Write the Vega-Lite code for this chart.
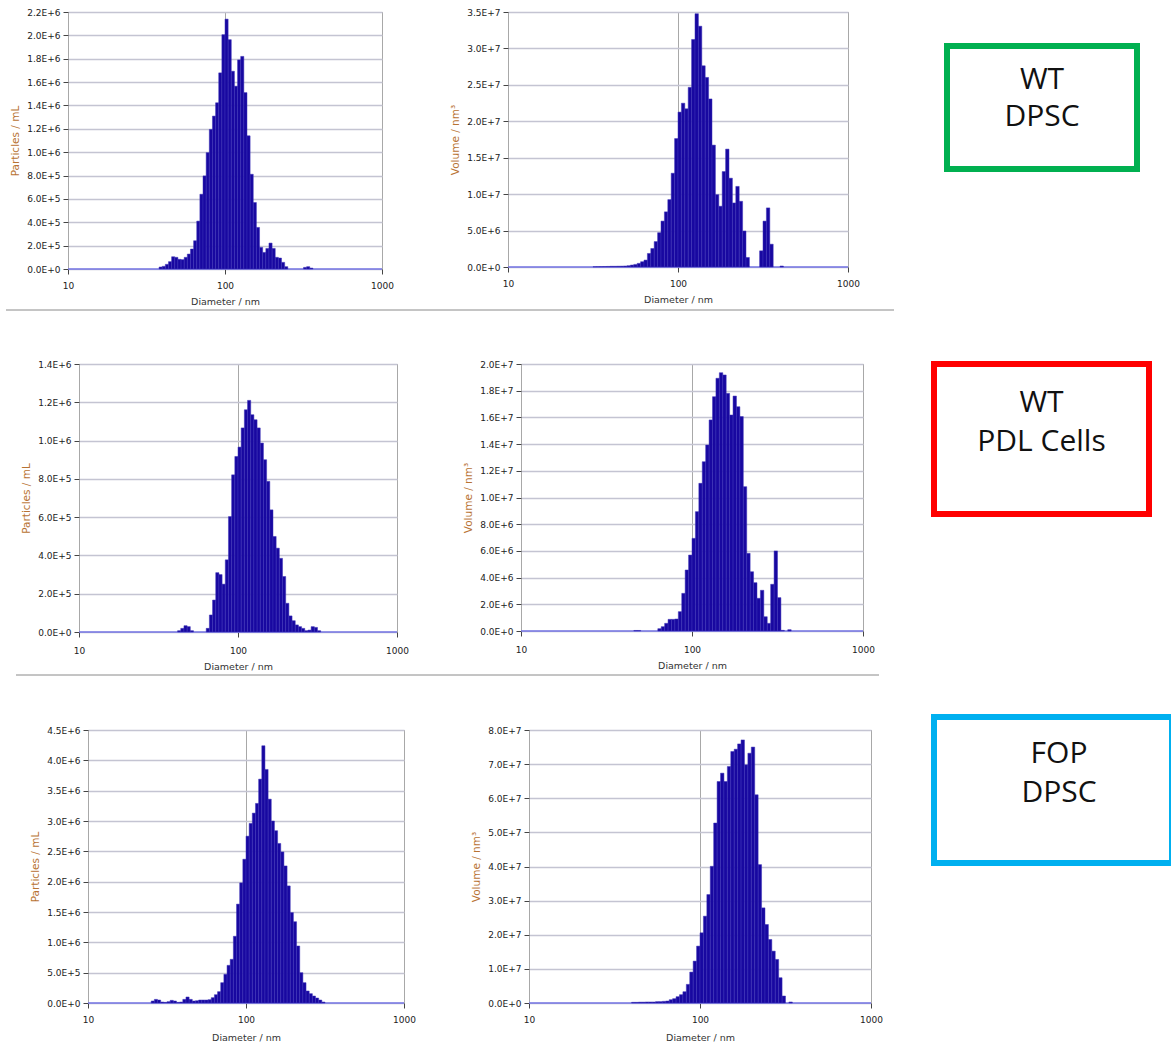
{
"$schema": "https://vega.github.io/schema/vega-lite/v6.json",
"padding": {"left": 0, "top": 7, "right": 0, "bottom": 0},
"config": {
 "view": {"stroke": null},
 "font": "DejaVu Sans",
 "axis": {"labelFont": "DejaVu Sans", "titleFont": "DejaVu Sans", "labelFontSize": 9, "labelColor": "#222", "tickColor": "#444", "tickSize": 5, "domain": false},
 "axisX": {"labelFlush": false, "labelOverlap": false, "grid": true, "gridColor": "#a8a8a8", "gridWidth": 1, "labelPadding": 7, "titlePadding": 6, "titleFontSize": 9.5, "titleColor": "#333", "titleFontWeight": "normal"},
 "axisY": {"grid": true, "labelOverlap": false, "tickCount": 30, "gridColor": "#c4c4d2", "gridWidth": 1.3, "labelPadding": 3, "titlePadding": 6, "titleFontSize": 10.5, "titleColor": "#b87333", "titleFontWeight": "normal", "labelExpr": "upper(format(datum.value, '.1e'))"}
},
"datasets": {
 "p1": [
  {"lo":38.02,"hi":39.81,"v":17000},{"lo":39.81,"hi":41.69,"v":23000},{"lo":41.69,"hi":43.65,"v":40000},{"lo":43.65,"hi":45.71,"v":63000},
  {"lo":45.71,"hi":47.86,"v":105000},{"lo":47.86,"hi":50.12,"v":100000},{"lo":50.12,"hi":52.48,"v":83000},{"lo":52.48,"hi":54.95,"v":80000},
  {"lo":54.95,"hi":57.54,"v":100000},{"lo":57.54,"hi":60.26,"v":128000},{"lo":60.26,"hi":63.10,"v":171000},{"lo":63.10,"hi":66.07,"v":242000},
  {"lo":66.07,"hi":69.18,"v":410000},{"lo":69.18,"hi":72.44,"v":640000},{"lo":72.44,"hi":75.86,"v":797000},{"lo":75.86,"hi":79.43,"v":996000},
  {"lo":79.43,"hi":83.18,"v":1195000},{"lo":83.18,"hi":87.10,"v":1309000},{"lo":87.10,"hi":91.20,"v":1423000},{"lo":91.20,"hi":95.50,"v":1679000},
  {"lo":95.50,"hi":100,"v":2006000},{"lo":100,"hi":104.71,"v":2139000},{"lo":104.71,"hi":109.65,"v":1963000},{"lo":109.65,"hi":114.82,"v":1693000},
  {"lo":114.82,"hi":120.23,"v":1565000},{"lo":120.23,"hi":125.89,"v":1790000},{"lo":125.89,"hi":131.83,"v":1820000},{"lo":131.83,"hi":138.04,"v":1510000},
  {"lo":138.04,"hi":144.54,"v":1140000},{"lo":144.54,"hi":151.36,"v":811000},{"lo":151.36,"hi":158.49,"v":569000},{"lo":158.49,"hi":165.96,"v":356000},
  {"lo":165.96,"hi":173.78,"v":185000},{"lo":173.78,"hi":181.97,"v":142000},{"lo":181.97,"hi":190.55,"v":176000},{"lo":190.55,"hi":199.53,"v":222000},
  {"lo":199.53,"hi":208.93,"v":176000},{"lo":208.93,"hi":218.78,"v":100000},{"lo":218.78,"hi":229.09,"v":94000},{"lo":229.09,"hi":239.88,"v":57000},
  {"lo":239.88,"hi":251.19,"v":20000},{"lo":316.23,"hi":331.13,"v":14000},{"lo":331.13,"hi":346.74,"v":20000},{"lo":346.74,"hi":363.08,"v":8000}
 ],
 "p2": [
  {"lo":31.62,"hi":33.11,"v":40000},{"lo":33.11,"hi":34.67,"v":50000},{"lo":34.67,"hi":36.31,"v":60000},{"lo":36.31,"hi":38.02,"v":70000},
  {"lo":38.02,"hi":39.81,"v":80000},{"lo":39.81,"hi":41.69,"v":100000},{"lo":41.69,"hi":43.65,"v":100000},{"lo":43.65,"hi":45.71,"v":110000},
  {"lo":45.71,"hi":47.86,"v":120000},{"lo":47.86,"hi":50.12,"v":140000},{"lo":50.12,"hi":52.48,"v":180000},{"lo":52.48,"hi":54.95,"v":270000},
  {"lo":54.95,"hi":57.54,"v":360000},{"lo":57.54,"hi":60.26,"v":500000},{"lo":60.26,"hi":63.10,"v":725000},{"lo":63.10,"hi":66.07,"v":950000},
  {"lo":66.07,"hi":69.18,"v":1860000},{"lo":69.18,"hi":72.44,"v":2540000},{"lo":72.44,"hi":75.86,"v":3490000},{"lo":75.86,"hi":79.43,"v":4710000},
  {"lo":79.43,"hi":83.18,"v":6300000},{"lo":83.18,"hi":87.10,"v":7570000},{"lo":87.10,"hi":91.20,"v":9250000},{"lo":91.20,"hi":95.50,"v":12870000},
  {"lo":95.50,"hi":100,"v":17630000},{"lo":100,"hi":104.71,"v":21260000},{"lo":104.71,"hi":109.65,"v":22480000},{"lo":109.65,"hi":114.82,"v":21710000},
  {"lo":114.82,"hi":120.23,"v":24660000},{"lo":120.23,"hi":125.89,"v":31230000},{"lo":125.89,"hi":131.83,"v":34770000},{"lo":131.83,"hi":138.04,"v":33050000},
  {"lo":138.04,"hi":144.54,"v":27610000},{"lo":144.54,"hi":151.36,"v":26020000},{"lo":151.36,"hi":158.49,"v":23070000},{"lo":158.49,"hi":165.96,"v":16730000},
  {"lo":165.96,"hi":173.78,"v":9930000},{"lo":173.78,"hi":181.97,"v":8340000},{"lo":181.97,"hi":190.55,"v":13100000},{"lo":190.55,"hi":199.53,"v":16180000},
  {"lo":199.53,"hi":208.93,"v":12190000},{"lo":208.93,"hi":218.78,"v":8790000},{"lo":218.78,"hi":229.09,"v":11060000},{"lo":229.09,"hi":239.88,"v":9020000},
  {"lo":239.88,"hi":251.19,"v":4940000},{"lo":251.19,"hi":263.03,"v":1310000},{"lo":301.99,"hi":316.23,"v":2220000},{"lo":316.23,"hi":331.13,"v":6300000},
  {"lo":331.13,"hi":346.74,"v":8110000},{"lo":346.74,"hi":363.08,"v":3130000},{"lo":398.11,"hi":416.87,"v":136000}
 ],
 "p3": [
  {"lo":41.69,"hi":43.65,"v":7000},{"lo":43.65,"hi":45.71,"v":19000},{"lo":45.71,"hi":47.86,"v":33000},{"lo":47.86,"hi":50.12,"v":28000},
  {"lo":50.12,"hi":52.48,"v":7000},{"lo":63.10,"hi":66.07,"v":19000},{"lo":66.07,"hi":69.18,"v":89000},{"lo":69.18,"hi":72.44,"v":167000},
  {"lo":72.44,"hi":75.86,"v":310000},{"lo":75.86,"hi":79.43,"v":300000},{"lo":79.43,"hi":83.18,"v":250000},{"lo":83.18,"hi":87.10,"v":377000},
  {"lo":87.10,"hi":91.20,"v":603000},{"lo":91.20,"hi":95.50,"v":821000},{"lo":95.50,"hi":100,"v":917000},{"lo":100,"hi":104.71,"v":966000},
  {"lo":104.71,"hi":109.65,"v":1066000},{"lo":109.65,"hi":114.82,"v":1161000},{"lo":114.82,"hi":120.23,"v":1210000},{"lo":120.23,"hi":125.89,"v":1135000},
  {"lo":125.89,"hi":131.83,"v":1109000},{"lo":131.83,"hi":138.04,"v":1066000},{"lo":138.04,"hi":144.54,"v":987000},{"lo":144.54,"hi":151.36,"v":900000},
  {"lo":151.36,"hi":158.49,"v":787000},{"lo":158.49,"hi":165.96,"v":638000},{"lo":165.96,"hi":173.78,"v":499000},{"lo":173.78,"hi":181.97,"v":438000},
  {"lo":181.97,"hi":190.55,"v":385000},{"lo":190.55,"hi":199.53,"v":290000},{"lo":199.53,"hi":208.93,"v":150000},{"lo":208.93,"hi":218.78,"v":84000},
  {"lo":218.78,"hi":229.09,"v":59000},{"lo":229.09,"hi":239.88,"v":37000},{"lo":239.88,"hi":251.19,"v":28000},{"lo":251.19,"hi":263.03,"v":19000},
  {"lo":263.03,"hi":275.42,"v":7000},{"lo":275.42,"hi":288.40,"v":10000},{"lo":288.40,"hi":301.99,"v":28000},{"lo":301.99,"hi":316.23,"v":24000},
  {"lo":316.23,"hi":331.13,"v":7000}
 ],
 "p4": [
  {"lo":45.71,"hi":47.86,"v":40000},{"lo":47.86,"hi":50.12,"v":40000},{"lo":63.10,"hi":66.07,"v":175000},{"lo":66.07,"hi":69.18,"v":325000},
  {"lo":69.18,"hi":72.44,"v":574000},{"lo":72.44,"hi":75.86,"v":874000},{"lo":75.86,"hi":79.43,"v":874000},{"lo":79.43,"hi":83.18,"v":899000},
  {"lo":83.18,"hi":87.10,"v":1450000},{"lo":87.10,"hi":91.20,"v":2820000},{"lo":91.20,"hi":95.50,"v":4570000},{"lo":95.50,"hi":100,"v":5690000},
  {"lo":100,"hi":104.71,"v":6940000},{"lo":104.71,"hi":109.65,"v":8940000},{"lo":109.65,"hi":114.82,"v":11060000},{"lo":114.82,"hi":120.23,"v":12680000},
  {"lo":120.23,"hi":125.89,"v":13930000},{"lo":125.89,"hi":131.83,"v":15810000},{"lo":131.83,"hi":138.04,"v":17550000},{"lo":138.04,"hi":144.54,"v":18930000},
  {"lo":144.54,"hi":151.36,"v":19350000},{"lo":151.36,"hi":158.49,"v":19180000},{"lo":158.49,"hi":165.96,"v":17800000},{"lo":165.96,"hi":173.78,"v":16180000},
  {"lo":173.78,"hi":181.97,"v":17600000},{"lo":181.97,"hi":190.55,"v":16800000},{"lo":190.55,"hi":199.53,"v":16060000},{"lo":199.53,"hi":208.93,"v":10810000},
  {"lo":208.93,"hi":218.78,"v":5820000},{"lo":218.78,"hi":229.09,"v":4440000},{"lo":229.09,"hi":239.88,"v":3620000},{"lo":239.88,"hi":251.19,"v":2450000},
  {"lo":251.19,"hi":263.03,"v":3050000},{"lo":263.03,"hi":275.42,"v":1070000},{"lo":275.42,"hi":288.40,"v":574000},{"lo":288.40,"hi":301.99,"v":3500000},
  {"lo":301.99,"hi":316.23,"v":6000000},{"lo":316.23,"hi":331.13,"v":2500000},{"lo":331.13,"hi":346.74,"v":50000},{"lo":363.08,"hi":380.19,"v":100000}
 ],
 "p5": [
  {"lo":25.12,"hi":26.30,"v":33000},{"lo":26.30,"hi":27.54,"v":60000},{"lo":27.54,"hi":28.84,"v":49000},{"lo":28.84,"hi":30.20,"v":16000},
  {"lo":30.20,"hi":31.62,"v":11000},{"lo":31.62,"hi":33.11,"v":22000},{"lo":33.11,"hi":34.67,"v":44000},{"lo":34.67,"hi":36.31,"v":33000},
  {"lo":36.31,"hi":38.02,"v":11000},{"lo":38.02,"hi":39.81,"v":16000},{"lo":39.81,"hi":41.69,"v":60000},{"lo":41.69,"hi":43.65,"v":99000},
  {"lo":43.65,"hi":45.71,"v":60000},{"lo":45.71,"hi":47.86,"v":33000},{"lo":47.86,"hi":50.12,"v":38000},{"lo":50.12,"hi":52.48,"v":49000},
  {"lo":52.48,"hi":54.95,"v":49000},{"lo":54.95,"hi":57.54,"v":49000},{"lo":57.54,"hi":60.26,"v":55000},{"lo":60.26,"hi":63.10,"v":88000},
  {"lo":63.10,"hi":66.07,"v":137000},{"lo":66.07,"hi":69.18,"v":187000},{"lo":69.18,"hi":72.44,"v":335000},{"lo":72.44,"hi":75.86,"v":473000},
  {"lo":75.86,"hi":79.43,"v":621000},{"lo":79.43,"hi":83.18,"v":720000},{"lo":83.18,"hi":87.10,"v":1100000},{"lo":87.10,"hi":91.20,"v":1630000},
  {"lo":91.20,"hi":95.50,"v":1980000},{"lo":95.50,"hi":100,"v":2370000},{"lo":100,"hi":104.71,"v":2750000},{"lo":104.71,"hi":109.65,"v":2960000},
  {"lo":109.65,"hi":114.82,"v":3130000},{"lo":114.82,"hi":120.23,"v":3290000},{"lo":120.23,"hi":125.89,"v":3690000},{"lo":125.89,"hi":131.83,"v":4240000},
  {"lo":131.83,"hi":138.04,"v":3850000},{"lo":138.04,"hi":144.54,"v":3360000},{"lo":144.54,"hi":151.36,"v":3000000},{"lo":151.36,"hi":158.49,"v":2840000},
  {"lo":158.49,"hi":165.96,"v":2630000},{"lo":165.96,"hi":173.78,"v":2490000},{"lo":173.78,"hi":181.97,"v":2260000},{"lo":181.97,"hi":190.55,"v":1930000},
  {"lo":190.55,"hi":199.53,"v":1490000},{"lo":199.53,"hi":208.93,"v":1340000},{"lo":208.93,"hi":218.78,"v":940000},{"lo":218.78,"hi":229.09,"v":500000},
  {"lo":229.09,"hi":239.88,"v":335000},{"lo":239.88,"hi":251.19,"v":198000},{"lo":251.19,"hi":263.03,"v":154000},{"lo":263.03,"hi":275.42,"v":115000},
  {"lo":275.42,"hi":288.40,"v":82000},{"lo":288.40,"hi":301.99,"v":49000},{"lo":301.99,"hi":316.23,"v":16000}
 ],
 "p6": [
  {"lo":39.81,"hi":41.69,"v":200000},{"lo":41.69,"hi":43.65,"v":200000},{"lo":43.65,"hi":45.71,"v":250000},{"lo":45.71,"hi":47.86,"v":250000},
  {"lo":47.86,"hi":50.12,"v":300000},{"lo":50.12,"hi":52.48,"v":300000},{"lo":52.48,"hi":54.95,"v":300000},{"lo":54.95,"hi":57.54,"v":400000},
  {"lo":57.54,"hi":60.26,"v":400000},{"lo":60.26,"hi":63.10,"v":490000},{"lo":63.10,"hi":66.07,"v":580000},{"lo":66.07,"hi":69.18,"v":970000},
  {"lo":69.18,"hi":72.44,"v":1270000},{"lo":72.44,"hi":75.86,"v":1850000},{"lo":75.86,"hi":79.43,"v":2440000},{"lo":79.43,"hi":83.18,"v":3310000},
  {"lo":83.18,"hi":87.10,"v":5460000},{"lo":87.10,"hi":91.20,"v":9060000},{"lo":91.20,"hi":95.50,"v":12280000},{"lo":95.50,"hi":100,"v":16670000},
  {"lo":100,"hi":104.71,"v":20570000},{"lo":104.71,"hi":109.65,"v":25440000},{"lo":109.65,"hi":114.82,"v":31780000},{"lo":114.82,"hi":120.23,"v":40060000},
  {"lo":120.23,"hi":125.89,"v":52730000},{"lo":125.89,"hi":131.83,"v":64910000},{"lo":131.83,"hi":138.04,"v":67350000},{"lo":138.04,"hi":144.54,"v":64910000},
  {"lo":144.54,"hi":151.36,"v":69300000},{"lo":151.36,"hi":158.49,"v":73690000},{"lo":158.49,"hi":165.96,"v":74370000},{"lo":165.96,"hi":173.78,"v":75930000},
  {"lo":173.78,"hi":181.97,"v":77100000},{"lo":181.97,"hi":190.55,"v":69800000},{"lo":190.55,"hi":199.53,"v":73200000},{"lo":199.53,"hi":208.93,"v":75000000},
  {"lo":208.93,"hi":218.78,"v":61000000},{"lo":218.78,"hi":229.09,"v":40550000},{"lo":229.09,"hi":239.88,"v":27880000},{"lo":239.88,"hi":251.19,"v":23000000},
  {"lo":251.19,"hi":263.03,"v":18620000},{"lo":263.03,"hi":275.42,"v":15200000},{"lo":275.42,"hi":288.40,"v":12770000},{"lo":288.40,"hi":301.99,"v":7410000},
  {"lo":301.99,"hi":316.23,"v":2050000},{"lo":331.13,"hi":346.74,"v":300000}
 ]
},
"spacing": 3,
"vconcat": [
 {"spacing": 0, "hconcat": [
  {"width": 10, "height": 1, "data": {"values": [{}]}, "mark": {"type": "point", "size": 0, "filled": true, "opacity": 0}},
  {"width": 314, "height": 257, "view": {"stroke": "#9c9c9c", "strokeWidth": 1},
   "layer": [
    {"data": {"values": [{}]}, "mark": {"type": "rule", "color": "#7474e4", "strokeWidth": 1.5}, "encoding": {"y": {"datum": 0, "type": "quantitative"}}},
    {"data": {"name": "p1"}, "mark": {"type": "rect", "color": "#1808a0", "stroke": "#3d33b8", "strokeWidth": 0.5},
     "encoding": {
      "x": {"field": "lo", "type": "quantitative", "scale": {"type": "log", "domain": [10, 1000]}, "axis": {"title": "Diameter / nm", "values": [10, 100, 1000], "format": "d"}},
      "x2": {"field": "hi"},
      "y": {"field": "v", "type": "quantitative", "scale": {"domain": [0, 2200000], "nice": false}, "axis": {"title": "Particles / mL", "tickCount": 30, "labelOverlap": false, "values": [0,200000,400000,600000,800000,1000000,1200000,1400000,1600000,1800000,2000000,2200000]}},
      "y2": {"datum": 0}}}
   ]},
  {"width": 56, "height": 1, "data": {"values": [{}]}, "mark": {"type": "point", "size": 0, "filled": true, "opacity": 0}},
  {"width": 340, "height": 255, "view": {"stroke": "#9c9c9c", "strokeWidth": 1},
   "layer": [
    {"data": {"values": [{}]}, "mark": {"type": "rule", "color": "#7474e4", "strokeWidth": 1.5}, "encoding": {"y": {"datum": 0, "type": "quantitative"}}},
    {"data": {"name": "p2"}, "mark": {"type": "rect", "color": "#1808a0", "stroke": "#3d33b8", "strokeWidth": 0.5},
     "encoding": {
      "x": {"field": "lo", "type": "quantitative", "scale": {"type": "log", "domain": [10, 1000]}, "axis": {"title": "Diameter / nm", "values": [10, 100, 1000], "format": "d"}},
      "x2": {"field": "hi"},
      "y": {"field": "v", "type": "quantitative", "scale": {"domain": [0, 35000000], "nice": false}, "axis": {"title": "Volume / nm³", "tickCount": 30, "labelOverlap": false, "values": [0,5000000,10000000,15000000,20000000,25000000,30000000,35000000]}},
      "y2": {"datum": 0}}}
   ]},
  {"width": 84, "height": 1, "data": {"values": [{}]}, "mark": {"type": "point", "size": 0, "filled": true, "opacity": 0}},
  {"spacing": 0, "vconcat": [
   {"width": 1, "height": 31, "data": {"values": [{}]}, "mark": {"type": "point", "size": 0, "filled": true, "opacity": 0}},
   {"width": 190, "height": 123, "view": {"stroke": "#00b050", "strokeWidth": 6},
    "data": {"values": [{"label": "WT\nDPSC"}]},
    "mark": {"type": "text", "font": "Open Sans", "fontSize": 30, "lineBreak": "\n", "lineHeight": 37, "baseline": "middle", "align": "center", "dy": -28, "color": "#111"},
    "encoding": {"text": {"field": "label"}}}
  ]}
 ]},
 {"spacing": 0, "hconcat": [
  {"width": 5, "height": 1, "data": {"values": [{}]}, "mark": {"type": "point", "size": 0, "filled": true, "opacity": 0}},
  {"width": 888, "height": 46, "data": {"values": [{}]}, "mark": {"type": "rule", "color": "#8a8a8a", "strokeWidth": 1},
   "encoding": {"y": {"datum": 1, "type": "quantitative", "scale": {"domain": [0, 1]}, "axis": null}}}
 ]},
 {"spacing": 0, "hconcat": [
  {"width": 21, "height": 1, "data": {"values": [{}]}, "mark": {"type": "point", "size": 0, "filled": true, "opacity": 0}},
  {"width": 318, "height": 268, "view": {"stroke": "#9c9c9c", "strokeWidth": 1},
   "layer": [
    {"data": {"values": [{}]}, "mark": {"type": "rule", "color": "#7474e4", "strokeWidth": 1.5}, "encoding": {"y": {"datum": 0, "type": "quantitative"}}},
    {"data": {"name": "p3"}, "mark": {"type": "rect", "color": "#1808a0", "stroke": "#3d33b8", "strokeWidth": 0.5},
     "encoding": {
      "x": {"field": "lo", "type": "quantitative", "scale": {"type": "log", "domain": [10, 1000]}, "axis": {"title": "Diameter / nm", "values": [10, 100, 1000], "format": "d", "labelPadding": 9, "titlePadding": 6}},
      "x2": {"field": "hi"},
      "y": {"field": "v", "type": "quantitative", "scale": {"domain": [0, 1400000], "nice": false}, "axis": {"title": "Particles / mL", "tickCount": 30, "labelOverlap": false, "values": [0,200000,400000,600000,800000,1000000,1200000,1400000]}},
      "y2": {"datum": 0}}}
   ]},
  {"width": 54, "height": 1, "data": {"values": [{}]}, "mark": {"type": "point", "size": 0, "filled": true, "opacity": 0}},
  {"width": 342, "height": 267, "view": {"stroke": "#9c9c9c", "strokeWidth": 1},
   "layer": [
    {"data": {"values": [{}]}, "mark": {"type": "rule", "color": "#7474e4", "strokeWidth": 1.5}, "encoding": {"y": {"datum": 0, "type": "quantitative"}}},
    {"data": {"name": "p4"}, "mark": {"type": "rect", "color": "#1808a0", "stroke": "#3d33b8", "strokeWidth": 0.5},
     "encoding": {
      "x": {"field": "lo", "type": "quantitative", "scale": {"type": "log", "domain": [10, 1000]}, "axis": {"title": "Diameter / nm", "values": [10, 100, 1000], "format": "d", "labelPadding": 9, "titlePadding": 6}},
      "x2": {"field": "hi"},
      "y": {"field": "v", "type": "quantitative", "scale": {"domain": [0, 20000000], "nice": false}, "axis": {"title": "Volume / nm³", "tickCount": 30, "labelOverlap": false, "values": [0,2000000,4000000,6000000,8000000,10000000,12000000,14000000,16000000,18000000,20000000]}},
      "y2": {"datum": 0}}}
   ]},
  {"width": 56, "height": 1, "data": {"values": [{}]}, "mark": {"type": "point", "size": 0, "filled": true, "opacity": 0}},
  {"width": 215, "height": 150, "view": {"stroke": "#ff0000", "strokeWidth": 6},
   "data": {"values": [{"label": "WT\nPDL Cells"}]},
   "mark": {"type": "text", "font": "Open Sans", "fontSize": 30, "lineBreak": "\n", "lineHeight": 39, "baseline": "middle", "align": "center", "dy": -36, "color": "#111"},
   "encoding": {"text": {"field": "label"}}}
 ]},
 {"spacing": 0, "hconcat": [
  {"width": 15, "height": 1, "data": {"values": [{}]}, "mark": {"type": "point", "size": 0, "filled": true, "opacity": 0}},
  {"width": 863, "height": 36, "data": {"values": [{}]}, "mark": {"type": "rule", "color": "#8a8a8a", "strokeWidth": 1},
   "encoding": {"y": {"datum": 1, "type": "quantitative", "scale": {"domain": [0, 1]}, "axis": null}}}
 ]},
 {"spacing": 0, "hconcat": [
  {"width": 30, "height": 1, "data": {"values": [{}]}, "mark": {"type": "point", "size": 0, "filled": true, "opacity": 0}},
  {"spacing": 0, "vconcat": [
   {"width": 1, "height": 8, "data": {"values": [{}]}, "mark": {"type": "point", "size": 0, "filled": true, "opacity": 0}},
   {"spacing": 0, "hconcat": [
    {"width": 316, "height": 273, "view": {"stroke": "#9c9c9c", "strokeWidth": 1},
     "layer": [
      {"data": {"values": [{}]}, "mark": {"type": "rule", "color": "#7474e4", "strokeWidth": 1.5}, "encoding": {"y": {"datum": 0, "type": "quantitative"}}},
      {"data": {"name": "p5"}, "mark": {"type": "rect", "color": "#1808a0", "stroke": "#3d33b8", "strokeWidth": 0.5},
       "encoding": {
        "x": {"field": "lo", "type": "quantitative", "scale": {"type": "log", "domain": [10, 1000]}, "axis": {"title": "Diameter / nm", "values": [10, 100, 1000], "format": "d", "labelPadding": 7, "titlePadding": 8}},
        "x2": {"field": "hi"},
        "y": {"field": "v", "type": "quantitative", "scale": {"domain": [0, 4500000], "nice": false}, "axis": {"title": "Particles / mL", "tickCount": 30, "labelOverlap": false, "values": [0,500000,1000000,1500000,2000000,2500000,3000000,3500000,4000000,4500000]}},
        "y2": {"datum": 0}}}
     ]},
    {"width": 55, "height": 1, "data": {"values": [{}]}, "mark": {"type": "point", "size": 0, "filled": true, "opacity": 0}},
    {"width": 342, "height": 273, "view": {"stroke": "#9c9c9c", "strokeWidth": 1},
     "layer": [
      {"data": {"values": [{}]}, "mark": {"type": "rule", "color": "#7474e4", "strokeWidth": 1.5}, "encoding": {"y": {"datum": 0, "type": "quantitative"}}},
      {"data": {"name": "p6"}, "mark": {"type": "rect", "color": "#1808a0", "stroke": "#3d33b8", "strokeWidth": 0.5},
       "encoding": {
        "x": {"field": "lo", "type": "quantitative", "scale": {"type": "log", "domain": [10, 1000]}, "axis": {"title": "Diameter / nm", "values": [10, 100, 1000], "format": "d", "labelPadding": 7, "titlePadding": 8}},
        "x2": {"field": "hi"},
        "y": {"field": "v", "type": "quantitative", "scale": {"domain": [0, 80000000], "nice": false}, "axis": {"title": "Volume / nm³", "tickCount": 30, "labelOverlap": false, "values": [0,10000000,20000000,30000000,40000000,50000000,60000000,70000000,80000000]}},
        "y2": {"datum": 0}}}
     ]}
   ]}
  ]},
  {"width": 48, "height": 1, "data": {"values": [{}]}, "mark": {"type": "point", "size": 0, "filled": true, "opacity": 0}},
  {"width": 238, "height": 146, "view": {"stroke": "#00b0f0", "strokeWidth": 6},
   "data": {"values": [{"label": "FOP\nDPSC"}]},
   "mark": {"type": "text", "font": "Open Sans", "fontSize": 30, "lineBreak": "\n", "lineHeight": 39, "baseline": "middle", "align": "center", "dy": -36, "dx": 6, "color": "#111"},
   "encoding": {"text": {"field": "label"}}}
 ]}
]
}
